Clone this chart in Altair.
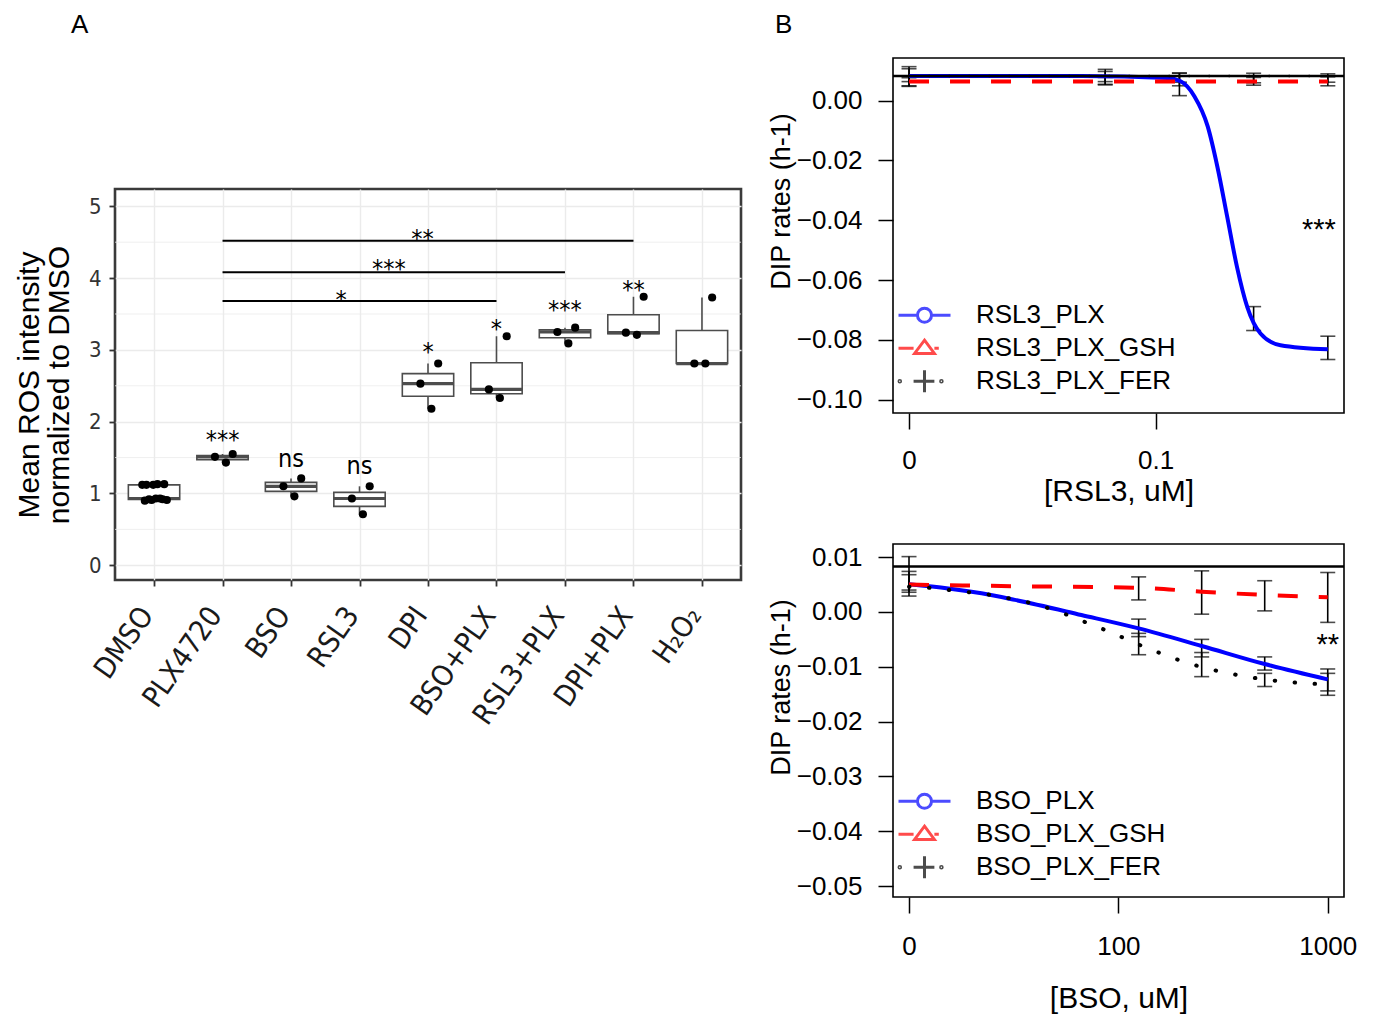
import json
import numpy as np
import pandas as pd
import altair as alt

SANS = "Liberation Sans, Arial, Helvetica, sans-serif"
NARROW = "Liberation Sans Narrow, DejaVu Sans Condensed, Liberation Sans, Arial, sans-serif"

# ---------------- Panel A data ----------------
categories = ["DMSO", "PLX4720", "BSO", "RSL3", "DPI", "BSO+PLX", "RSL3+PLX", "DPI+PLX", "H₂O₂"]
dmso_vals = [1.13, 1.12, 1.13, 1.12, 1.12, 0.93, 0.92, 0.91, 0.93, 0.90, 0.92, 0.91]
plx_vals = [1.43, 1.51, 1.55]
bso_vals = [0.96, 1.10, 1.21]
rsl3_vals = [0.71, 0.93, 1.10]
dpi_vals = [2.18, 2.53, 2.81]
bso_plx_vals = [2.33, 2.45, 3.19]
rsl3_plx_vals = [3.09, 3.25, 3.31]
dpi_plx_vals = [3.21, 3.24, 3.74]
h2o2_vals = [2.81, 2.81, 3.73]

sig_groups = ["PLX4720", "BSO", "RSL3", "DPI", "BSO+PLX", "RSL3+PLX", "DPI+PLX"]
sig_labels = ["***", "ns", "ns", "*", "*", "***", "**"]
sig_y = [1.64, 1.37, 1.27, 2.86, 3.18, 3.45, 3.72]

bracket_from = ["PLX4720", "PLX4720", "PLX4720"]
bracket_to = ["DPI+PLX", "RSL3+PLX", "BSO+PLX"]
bracket_y = [4.52, 4.08, 3.68]
bracket_labels = ["**", "***", "*"]
bracket_label_pos = [4.92, 4.43, 3.73]
bracket_label_y = [4.43, 4.01, 3.59]

minor_grid = [0.5, 1.5, 2.5, 3.5, 4.5]
a_y_ticks = [0, 1, 2, 3, 4, 5]

# ---------------- Panel B (top) data ----------------
rsl3_series = ["RSL3_PLX", "RSL3_PLX_GSH", "RSL3_PLX_FER"]
rsl3_conc = [0, 0.0625, 0.125, 0.25, 0.5]
rsl3_plx_lo = [0.0050, 0.0055, 0.0017, -0.0769, -0.0866]
rsl3_plx_hi = [0.0114, 0.0105, 0.0092, -0.0689, -0.0788]
rsl3_gsh_lo = [0.0048, 0.0053, 0.0050, 0.0052, 0.0050]
rsl3_gsh_hi = [0.0077, 0.0078, 0.0082, 0.0078, 0.0080]
rsl3_fer_lo = [0.0064, 0.0064, 0.0062, 0.0060, 0.0062]
rsl3_fer_hi = [0.0107, 0.0098, 0.0093, 0.0092, 0.0090]

rsl3_plx_fit_conc = [0, 0.05, 0.1116, 0.1264, 0.1437, 0.1628, 0.1781, 0.1953, 0.214, 0.2355, 0.2665, 0.3213, 0.5]
rsl3_plx_fit_rate = [0.0083, 0.0083, 0.0076, 0.0065, 0.0015, -0.0086, -0.022, -0.0388, -0.0556, -0.069, -0.0779, -0.0818, -0.0832]
rsl3_gsh_fit_conc = [0, 0.5]
rsl3_gsh_fit_rate = [0.0064, 0.0064]
rsl3_fer_fit_conc = [0, 0.5]
rsl3_fer_fit_rate = [0.0083, 0.0083]
rsl3_ref_rate = [0.0083]
rsl3_star_conc = [0.46]
rsl3_star_rate = [-0.0463]
rsl3_star_text = ["***"]
rsl3_tick_values = [0.01, 0.1]
rsl3_tick_labels = ["0", "0.1"]
rsl3_y_ticks = [0.0, -0.02, -0.04, -0.06, -0.08, -0.10]

# ---------------- Panel B (bottom) data ----------------
bso_series = ["BSO_PLX", "BSO_PLX_GSH", "BSO_PLX_FER"]
bso_conc = [0, 125, 250, 500, 1000]
bso_plx_lo = [0.0040, -0.0045, -0.0082, -0.0106, -0.0144]
bso_plx_hi = [0.0074, -0.0013, -0.0050, -0.0082, -0.0104]
bso_gsh_lo = [0.0029, 0.0022, -0.0004, 0.0002, -0.0019]
bso_gsh_hi = [0.0101, 0.0064, 0.0075, 0.0057, 0.0072]
bso_fer_lo = [0.0036, -0.0078, -0.0118, -0.0136, -0.0152]
bso_fer_hi = [0.0068, -0.0039, -0.0074, -0.0112, -0.0112]

bso_plx_fit_conc = [0, 15.4, 22.2, 32, 66.6, 125, 250, 500, 1000]
bso_plx_fit_rate = [0.00505, 0.0043, 0.0034, 0.0022, -0.00055, -0.0030, -0.0062, -0.0095, -0.0123]
bso_gsh_fit_conc = [0, 32, 125, 250, 500, 1000]
bso_gsh_fit_rate = [0.0050, 0.0047, 0.0044, 0.0037, 0.0031, 0.0027]
bso_fer_fit_conc = [0, 12.5, 15.5, 19.4, 24.7, 30.8, 38.4, 47.5, 58.6, 72, 89.3, 110, 133.5, 166, 206, 253, 318, 396, 497, 618, 770, 1000]
bso_fer_fit_rate = [0.0046, 0.0044, 0.0040, 0.0036, 0.0031, 0.0024, 0.0016, 0.00055, -0.0007, -0.0021, -0.0035, -0.0050, -0.0064, -0.0078, -0.0091, -0.0101, -0.0110, -0.0117, -0.0123, -0.0127, -0.0130, -0.0132]
bso_ref_rate = [0.0083]
bso_star_conc = [1000]
bso_star_rate = [-0.0077]
bso_star_text = ["**"]
bso_tick_values = [10, 100, 1000]
bso_tick_labels = ["0", "100", "1000"]
bso_y_ticks = [0.01, 0.0, -0.01, -0.02, -0.03, -0.04, -0.05]

series_colors = ["#0000ff", "#ff0000", "#000000"]
legend_paths = [
    "M-1,0L-0.27,0M0.27,0L1,0M0.27,0A0.27,0.27,0,1,1,-0.27,0A0.27,0.27,0,1,1,0.27,0",
    "M-1,0L-0.42,0M0.38,0L0.55,0M0,-0.31L0.38,0.2L-0.38,0.2Z",
    "M-0.42,0L0.38,0M0,-0.42L0,0.42M-0.98,0a0.03,0.03,0,1,0,0.06,0a0.03,0.03,0,1,0,-0.06,0M0.62,0a0.03,0.03,0,1,0,0.06,0a0.03,0.03,0,1,0,-0.06,0",
]


def panel_title(text, dx):
    return alt.TitleParams(text, anchor="start", frame="group", dx=dx, offset=-1, baseline="alphabetic",
                           font=SANS, fontSize=26, fontWeight="normal", color="black")


# ================= Panel A =================
groups = [dmso_vals, plx_vals, bso_vals, rsl3_vals, dpi_vals, bso_plx_vals,
          rsl3_plx_vals, dpi_plx_vals, h2o2_vals]
box_rows, pt_rows = [], []
for i, (cat, vals) in enumerate(zip(categories, groups), start=1):
    arr = np.array(vals, dtype=float)
    q1, med, q3 = np.percentile(arr, [25, 50, 75])
    iqr = q3 - q1
    lo = arr[arr >= q1 - 1.5 * iqr].min()
    hi = arr[arr <= q3 + 1.5 * iqr].max()
    box_rows.append(dict(cat=cat, idx=i, q1=q1, med=med, q3=q3, lo=lo, hi=hi,
                         x1=i - 0.375, x2=i + 0.375))
    for j, v in enumerate(vals):
        pt_rows.append(dict(cat=cat, idx=i, j=j, value=v))
box_df = pd.DataFrame(box_rows)
pt_df = pd.DataFrame(pt_rows)
sig_df = pd.DataFrame(dict(idx=[categories.index(g) + 1 for g in sig_groups], y=sig_y, label=sig_labels))
br_df = pd.DataFrame(dict(x1=[categories.index(g) + 1 for g in bracket_from],
                          x2=[categories.index(g) + 1 for g in bracket_to],
                          y=bracket_y))
brl_df = pd.DataFrame(dict(x=bracket_label_pos, y=bracket_label_y, label=bracket_labels))
minor_df = pd.DataFrame(dict(y=minor_grid))

cat_expr = f"{json.dumps(categories, ensure_ascii=False)}[datum.value - 1]"
axisA_x = alt.Axis(values=list(range(1, len(categories) + 1)), labelExpr=cat_expr, title=None,
                   grid=True, gridColor="#ebebeb", gridWidth=1.4, domain=False,
                   tickColor="#333333", tickSize=6, tickWidth=1.8,
                   labelAngle=305, labelAlign="right", labelBaseline="alphabetic",
                   labelFont=NARROW, labelFontSize=29, labelColor="#1a1a1a",
                   labelPadding=29, labelOverlap=False, labelFlush=False)
axisA_y = alt.Axis(values=a_y_ticks, grid=True, gridColor="#ebebeb", gridWidth=1.4, domain=False,
                   tickColor="#333333", tickSize=6, tickWidth=1.8,
                   labelFont=NARROW, labelFontSize=22, labelColor="#333333", labelPadding=8,
                   title=["Mean ROS intensity", "normalized to DMSO"], titleFont=SANS,
                   titleFontSize=30, titleFontWeight="normal", titleColor="#000000",
                   titlePadding=14, titleLineHeight=30)
scaleA_x = alt.Scale(domain=[0.43, 9.57], nice=False, zero=False)
scaleA_y = alt.Scale(domain=[-0.205, 5.241], nice=False, zero=False)


def xa(field):
    return alt.X(f"{field}:Q", scale=scaleA_x, axis=axisA_x)


def ya(field):
    return alt.Y(f"{field}:Q", scale=scaleA_y, axis=axisA_y)


minor_layer = alt.Chart(minor_df).mark_rule(color="#ebebeb", strokeWidth=0.8).encode(y=ya("y"))
whisk = alt.Chart(box_df).mark_rule(color="#4d4d4d", strokeWidth=1.6).encode(x=xa("idx"), y=ya("lo"), y2="hi")
boxes = alt.Chart(box_df).mark_rect(fill="white", stroke="#4d4d4d", strokeWidth=1.6).encode(
    x=xa("x1"), x2="x2", y=ya("q1"), y2="q3")
medians = alt.Chart(box_df).mark_rule(color="#4d4d4d", strokeWidth=3.2).encode(x=xa("x1"), x2="x2", y=ya("med"))
points = alt.Chart(pt_df).transform_calculate(
    xj="datum.idx + ((((datum.j + 1) * 0.618034) % 1) - 0.5) * 0.42"
).mark_circle(color="black", opacity=1, size=66).encode(x=xa("xj"), y=ya("value"))
sig_text = alt.Chart(sig_df).mark_text(font=NARROW, fontSize=25, baseline="alphabetic", color="black").encode(
    x=xa("idx"), y=ya("y"), text="label:N")
brackets = alt.Chart(br_df).mark_rule(color="black", strokeWidth=2).encode(x=xa("x1"), x2="x2", y=ya("y"))
br_text = alt.Chart(brl_df).mark_text(font=NARROW, fontSize=25, baseline="alphabetic", color="black").encode(
    x=xa("x"), y=ya("y"), text="label:N")

panelA = alt.layer(minor_layer, whisk, boxes, medians, points, sig_text, brackets, br_text).properties(
    width=626, height=391,
    view=alt.ViewBackground(stroke="#3a3a3a", strokeWidth=2.6),
)

# spacer above panel A carrying the panel letter
spacerA = alt.Chart(pd.DataFrame(dict(v=[0]))).mark_point(opacity=0).encode(
    x=alt.X("v:Q", axis=None), y=alt.Y("v:Q", axis=None)
).properties(width=626, height=129, view=alt.ViewBackground(strokeOpacity=0, fillOpacity=0),
             title=panel_title("A", -44))


# ================= Panel B =================
def make_b(series, conc, los, his, fits, ref_rate, star, zero_pos, xdomain, tick_values, tick_labels,
           y_ticks, ydomain, xtitle, title_pad, label_pad, height, fer_width, title_text=None):
    def place(c):
        return [zero_pos if v == 0 else v for v in c]

    eb_rows = []
    for s, lo, hi in zip(series, los, his):
        for c, l, h in zip(place(conc), lo, hi):
            eb_rows.append(dict(series=s, conc=c, lo=l, hi=h))
    eb_df = pd.DataFrame(eb_rows)

    lab_expr = f"{json.dumps(tick_labels)}[indexof({json.dumps(tick_values)}, datum.value)]"
    ax_x = alt.Axis(values=tick_values, labelExpr=lab_expr, title=xtitle, grid=False, domain=False,
                    tickColor="black", tickSize=16, tickWidth=1.5,
                    labelFont=SANS, labelFontSize=26, labelColor="black", labelPadding=label_pad,
                    labelFlush=False, labelOverlap=False,
                    titleFont=SANS, titleFontSize=30, titleFontWeight="normal", titleColor="black",
                    titlePadding=title_pad)
    ax_y = alt.Axis(values=y_ticks, format=".2f", title="DIP rates (h-1)", grid=False, domain=False,
                    tickColor="black", tickSize=15, tickWidth=1.5,
                    labelFont=SANS, labelFontSize=26, labelColor="black", labelPadding=16,
                    labelOverlap=False, labelFlush=False,
                    titleFont=SANS, titleFontSize=27, titleFontWeight="normal", titleColor="black",
                    titleX=-98, titleY=143)
    sx = alt.Scale(type="log", domain=xdomain, nice=False)
    sy = alt.Scale(domain=ydomain, nice=False, zero=False)

    def xb(field):
        return alt.X(f"{field}:Q", scale=sx, axis=ax_x)

    def yb(field):
        return alt.Y(f"{field}:Q", scale=sy, axis=ax_y)

    layers = []
    layers.append(alt.Chart(eb_df).mark_rule(color="black", strokeWidth=1.6).encode(x=xb("conc"), y=yb("lo"), y2="hi"))
    layers.append(alt.Chart(eb_df).mark_tick(orient="horizontal", color="black", size=15, thickness=1.6).encode(
        x=xb("conc"), y=yb("lo")))
    layers.append(alt.Chart(eb_df).mark_tick(orient="horizontal", color="black", size=15, thickness=1.6).encode(
        x=xb("conc"), y=yb("hi")))

    styles = [dict(color=series_colors[0], strokeWidth=4),
              dict(color=series_colors[1], strokeWidth=4, strokeDash=[20, 21]),
              dict(color=series_colors[2], strokeWidth=fer_width, strokeDash=[0.5, 19.5], strokeCap="round")]
    for (fc, fr), st in zip(fits, styles):
        fdf = pd.DataFrame(dict(conc=place(fc), rate=fr))
        layers.append(alt.Chart(fdf).mark_line(interpolate="monotone", **st).encode(x=xb("conc"), y=yb("rate")))

    ref_df = pd.DataFrame(dict(rate=ref_rate))
    layers.append(alt.Chart(ref_df).mark_rule(color="black", strokeWidth=2.6).encode(y=yb("rate")))

    sc, sr, stx = star
    star_df = pd.DataFrame(dict(conc=sc, rate=sr, label=stx))
    layers.append(alt.Chart(star_df).mark_text(font=SANS, fontSize=29, baseline="alphabetic", color="black").encode(
        x=xb("conc"), y=yb("rate"), text="label:N"))

    leg = alt.Legend(title=None, orient="none", legendX=4, legendY=241, padding=0,
                     symbolSize=2704, symbolStrokeWidth=3, clipHeight=32.5, rowPadding=0,
                     labelFont=SANS, labelFontSize=26, labelColor="black", labelOffset=24,
                     labelLimit=400)
    leg_df = pd.DataFrame(dict(series=series, conc=[xdomain[0]] * 3, rate=[ydomain[0]] * 3))
    layers.append(
        alt.Chart(leg_df).transform_filter("datum.rate > 1").mark_point(filled=False, size=2704, strokeWidth=3).encode(
            x=xb("conc"), y=yb("rate"),
            color=alt.Color("series:N", scale=alt.Scale(domain=series, range=series_colors), legend=leg),
            shape=alt.Shape("series:N", scale=alt.Scale(domain=series, range=legend_paths), legend=leg),
        )
    )
    props = dict(width=451, height=height, view=alt.ViewBackground(stroke="black", strokeWidth=1.6))
    if title_text:
        props["title"] = panel_title(title_text, -118)
    return alt.layer(*layers).properties(**props)


btop = make_b(rsl3_series, rsl3_conc,
              [rsl3_plx_lo, rsl3_gsh_lo, rsl3_fer_lo], [rsl3_plx_hi, rsl3_gsh_hi, rsl3_fer_hi],
              [(rsl3_plx_fit_conc, rsl3_plx_fit_rate), (rsl3_gsh_fit_conc, rsl3_gsh_fit_rate),
               (rsl3_fer_fit_conc, rsl3_fer_fit_rate)],
              rsl3_ref_rate, (rsl3_star_conc, rsl3_star_rate, rsl3_star_text),
              0.01, [0.00861, 0.5815], rsl3_tick_values, rsl3_tick_labels,
              rsl3_y_ticks, [-0.1045, 0.0143], "[RSL3, uM]", 3, 18, 355, 2.4, title_text="B")
bbot = make_b(bso_series, bso_conc,
              [bso_plx_lo, bso_gsh_lo, bso_fer_lo], [bso_plx_hi, bso_gsh_hi, bso_fer_hi],
              [(bso_plx_fit_conc, bso_plx_fit_rate), (bso_gsh_fit_conc, bso_gsh_fit_rate),
               (bso_fer_fit_conc, bso_fer_fit_rate)],
              bso_ref_rate, (bso_star_conc, bso_star_rate, bso_star_text),
              10, [8.386, 1196], bso_tick_values, bso_tick_labels,
              bso_y_ticks, [-0.052, 0.0124], "[BSO, uM]", 24, 20, 353, 4)

left = alt.vconcat(spacerA, panelA, spacing=0)
right = alt.vconcat(btop, bbot, spacing=36).resolve_scale(color="independent", shape="independent",
                                                          x="independent", y="independent")
chart = alt.hconcat(left, right, spacing=23).resolve_scale(
    color="independent", shape="independent", x="independent", y="independent"
).configure(background="white", padding={"left": 5, "top": 3, "right": 5, "bottom": 5}, font=SANS)

chart.save("out.html", embed_options={"renderer": "svg", "actions": False})
